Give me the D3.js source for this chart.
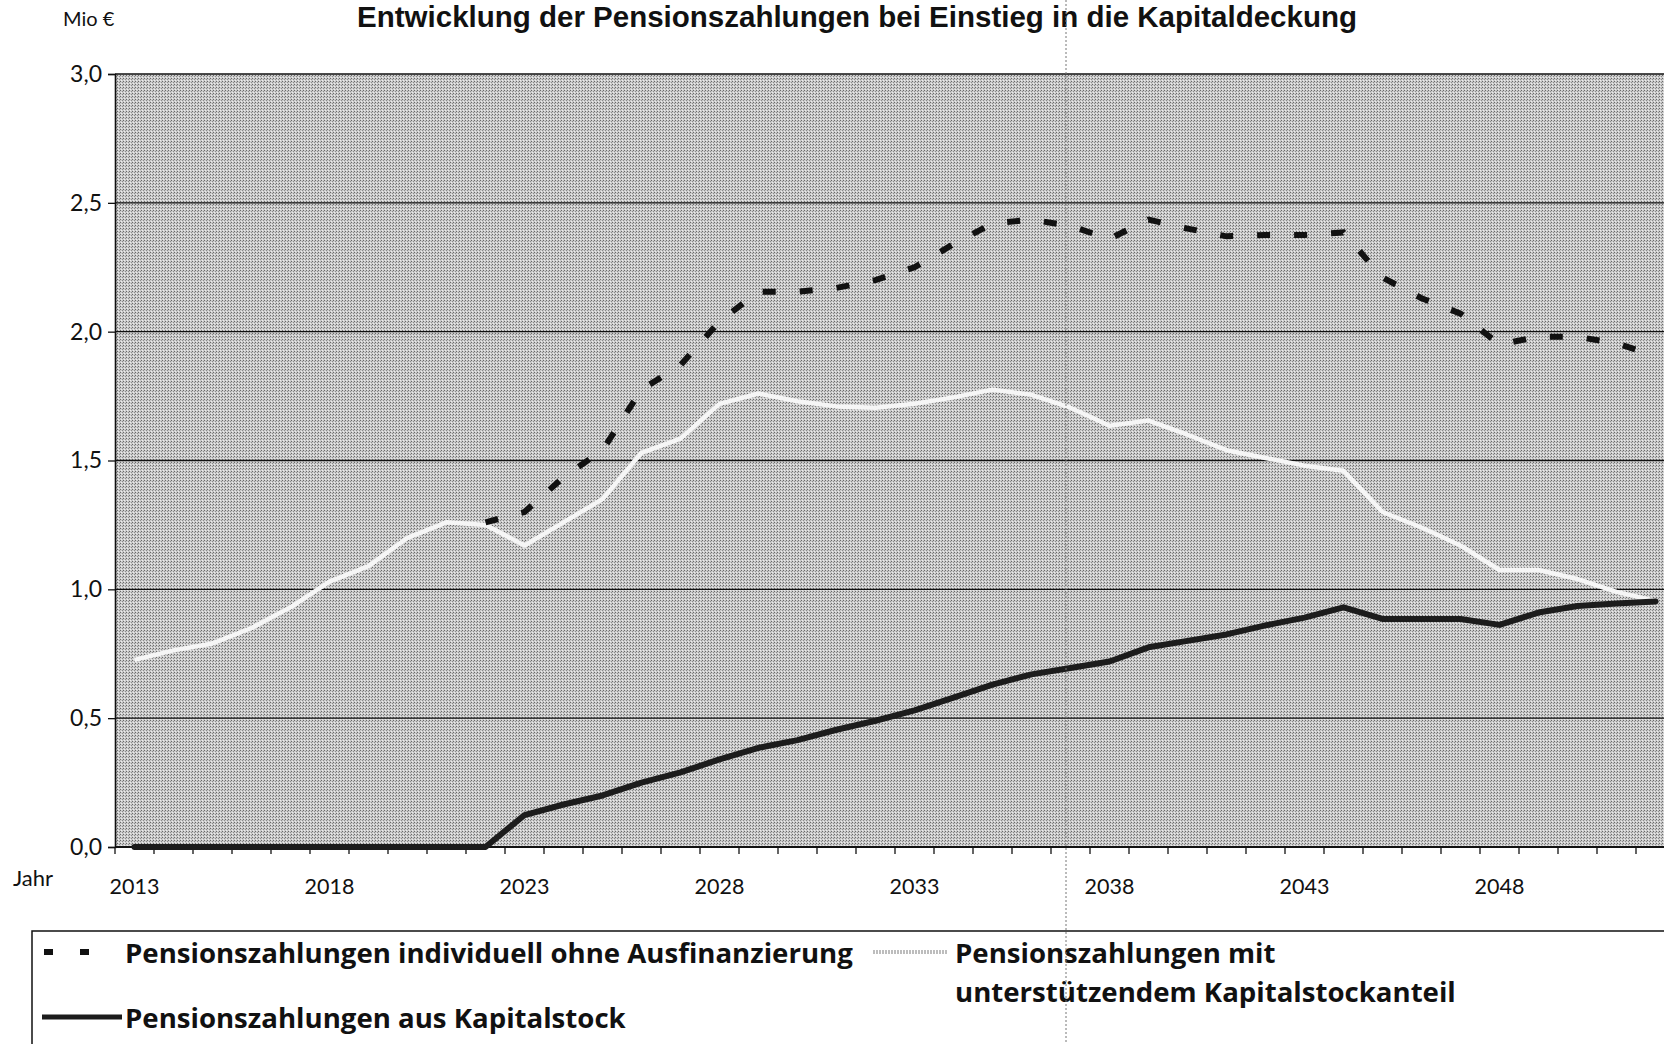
<!DOCTYPE html>
<html>
<head>
<meta charset="utf-8">
<script src="https://cdn.jsdelivr.net/npm/d3@7"></script>
<style>
  html, body { margin: 0; padding: 0; background: #fff; }
  svg { display: block; }
</style>
</head>
<body>
<svg id="chart"></svg>
<script>
// --- data (Mio €) ---
const years = d3.range(2013, 2053);
const yearLabels = [2013, 2018, 2023, 2028, 2033, 2038, 2043, 2048];
const yTicks = [0, 0.5, 1.0, 1.5, 2.0, 2.5, 3.0];

// Pensionszahlungen individuell ohne Ausfinanzierung (starts 2022)
const individuell = [
  null, null, null, null, null, null, null, null, null, 1.26,
  1.30, 1.435, 1.54, 1.775, 1.87, 2.04, 2.155, 2.155, 2.17, 2.20,
  2.25, 2.34, 2.42, 2.435, 2.41, 2.36, 2.435, 2.40, 2.37, 2.375,
  2.375, 2.385, 2.21, 2.13, 2.07, 1.95, 1.98, 1.98, 1.955, 1.905
];
// Pensionszahlungen mit unterstützendem Kapitalstockanteil
const mitKapital = [
  0.726, 0.763, 0.79, 0.85, 0.93, 1.03, 1.09, 1.20, 1.26, 1.25,
  1.17, 1.26, 1.35, 1.53, 1.585, 1.72, 1.76, 1.73, 1.71, 1.705,
  1.72, 1.745, 1.775, 1.755, 1.705, 1.635, 1.655, 1.60, 1.54, 1.51,
  1.48, 1.46, 1.30, 1.24, 1.17, 1.075, 1.075, 1.04, 0.99, 0.955
];
// Pensionszahlungen aus Kapitalstock
const kapitalstock = [
  0, 0, 0, 0, 0, 0, 0, 0, 0, 0,
  0.124, 0.165, 0.20, 0.25, 0.29, 0.34, 0.385, 0.415, 0.455, 0.49,
  0.53, 0.58, 0.63, 0.67, 0.695, 0.72, 0.775, 0.80, 0.825, 0.86,
  0.89, 0.93, 0.885, 0.885, 0.885, 0.862, 0.91, 0.935, 0.945, 0.953
];

const W = 1664, H = 1044;
const pLeft = 115, pTop = 74, pBottom = 847;
const catW = 39;
const pRight = pLeft + catW * years.length; // runs past the page edge like the scan

const svg = d3.select("#chart").attr("width", W).attr("height", H);

// halftone-ish plot background
const defs = svg.append("defs");
const pat = defs.append("pattern").attr("id", "dither")
  .attr("width", 3).attr("height", 3).attr("patternUnits", "userSpaceOnUse");
pat.append("rect").attr("width", 3).attr("height", 3).attr("fill", "#cbcbcb");
pat.append("rect").attr("x", 0).attr("y", 0).attr("width", 1).attr("height", 1).attr("fill", "#6a6a6a");
pat.append("rect").attr("x", 2).attr("y", 1).attr("width", 1).attr("height", 1).attr("fill", "#8c8c8c");
pat.append("rect").attr("x", 1).attr("y", 2).attr("width", 1).attr("height", 1).attr("fill", "#ececec");

const x = d3.scaleBand().domain(years).range([pLeft, pRight]).padding(0);
const xc = (yr) => x(yr) + x.bandwidth() / 2;
const y = d3.scaleLinear().domain([0, 3]).range([pBottom, pTop]);

svg.append("rect").attr("x", pLeft).attr("y", pTop)
  .attr("width", pRight - pLeft).attr("height", pBottom - pTop)
  .attr("fill", "url(#dither)");

// gridlines
svg.append("g").selectAll("line").data(yTicks.slice(1)).join("line")
  .attr("x1", pLeft).attr("x2", pRight)
  .attr("y1", (d) => y(d)).attr("y2", (d) => y(d))
  .attr("stroke", "#111").attr("stroke-width", 1.4);

const comma = (d) => d3.format(".1f")(d).replace(".", ",");
const tickFont = "Lato, 'Open Sans', sans-serif";

// y axis
const yAxis = svg.append("g").attr("transform", `translate(${pLeft},0)`)
  .call(d3.axisLeft(y).tickValues(yTicks).tickFormat(comma).tickSize(7).tickPadding(6));
yAxis.select(".domain").attr("stroke", "#111").attr("stroke-width", 1.6);
yAxis.selectAll("line").attr("stroke", "#111").attr("stroke-width", 1.3);
yAxis.selectAll("text").attr("font-family", tickFont)
  .attr("font-size", 23).attr("fill", "#111");

// x axis: ticks on category boundaries, labels every fifth year
const xAxis = svg.append("g").attr("transform", `translate(0,${pBottom})`);
xAxis.append("line").attr("x1", pLeft).attr("x2", pRight).attr("stroke", "#111").attr("stroke-width", 2);
xAxis.selectAll(".tk").data(years).join("line").attr("class", "tk")
  .attr("x1", (d) => x(d)).attr("x2", (d) => x(d)).attr("y1", 0).attr("y2", 7)
  .attr("stroke", "#111").attr("stroke-width", 1.3);
xAxis.selectAll("text").data(yearLabels).join("text")
  .attr("x", (d) => xc(d)).attr("y", 47).attr("text-anchor", "middle")
  .attr("font-family", tickFont).attr("font-size", 21.5)
  .attr("fill", "#111").text((d) => d);

svg.append("text").attr("x", 13).attr("y", 886)
  .attr("font-family", tickFont).attr("font-size", 22)
  .attr("fill", "#111").text("Jahr");
svg.append("text").attr("x", 63).attr("y", 26)
  .attr("font-family", tickFont).attr("font-size", 20)
  .attr("fill", "#111").text("Mio €");

// series
const line = (vals) => d3.line()
  .defined((d) => d != null)
  .x((d, i) => xc(years[i]))
  .y((d) => y(d))(vals);

svg.append("path").attr("d", line(mitKapital))
  .attr("fill", "none").attr("stroke", "#f6f6f6").attr("stroke-width", 4.5)
  .attr("stroke-linejoin", "round");
svg.append("path").attr("d", line(kapitalstock))
  .attr("fill", "none").attr("stroke", "#1c1c1c").attr("stroke-width", 6)
  .attr("stroke-linejoin", "round").attr("stroke-linecap", "round");
svg.append("path").attr("d", line(individuell))
  .attr("fill", "none").attr("stroke", "#111").attr("stroke-width", 6)
  .attr("stroke-dasharray", "13,24");

// title
svg.append("text").attr("x", 857).attr("y", 27).attr("text-anchor", "middle")
  .attr("font-family", "'Liberation Sans', Arial, sans-serif").attr("font-weight", 700)
  .attr("font-size", 29.5).attr("fill", "#111")
  .text("Entwicklung der Pensionszahlungen bei Einstieg in die Kapitaldeckung");

// legend box (cut off by the page like the scan)
const lg = svg.append("g");
lg.append("path").attr("d", `M32,${H + 5} V931 H${W + 5}`)
  .attr("fill", "none").attr("stroke", "#111").attr("stroke-width", 1.5);

const lgFont = (sel) => sel.attr("font-family", "'Open Sans', Lato, sans-serif")
  .attr("font-weight", 700).attr("font-size", 27.6).attr("fill", "#111");

lg.append("line").attr("x1", 44).attr("x2", 89).attr("y1", 952).attr("y2", 952)
  .attr("stroke", "#111").attr("stroke-width", 6).attr("stroke-dasharray", "9,27");
lg.append("text").attr("x", 125).attr("y", 963).call(lgFont)
  .text("Pensionszahlungen individuell ohne Ausfinanzierung");

lg.append("line").attr("x1", 873).attr("x2", 948).attr("y1", 952).attr("y2", 952)
  .attr("stroke", "#bdbdbd").attr("stroke-width", 4).attr("stroke-dasharray", "2,1");
lg.append("text").attr("x", 955).attr("y", 963).call(lgFont).text("Pensionszahlungen mit");
lg.append("text").attr("x", 955).attr("y", 1002).call(lgFont).text("unterstützendem Kapitalstockanteil");

lg.append("line").attr("x1", 42).attr("x2", 122).attr("y1", 1017).attr("y2", 1017)
  .attr("stroke", "#1c1c1c").attr("stroke-width", 5);
lg.append("text").attr("x", 125).attr("y", 1028).call(lgFont).text("Pensionszahlungen aus Kapitalstock");

// scan fold line
svg.append("line").attr("x1", 1066).attr("x2", 1066).attr("y1", 0).attr("y2", H)
  .attr("stroke", "#777").attr("stroke-width", 1).attr("stroke-dasharray", "2,2");
</script>
</body>
</html>
